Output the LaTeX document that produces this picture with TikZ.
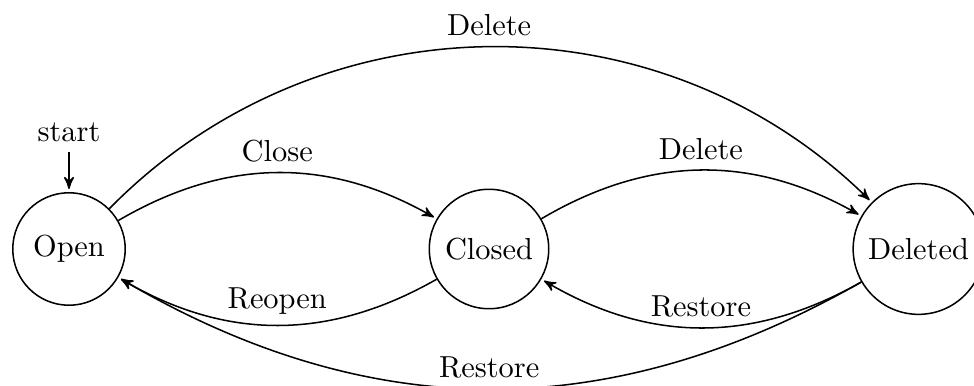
\documentclass[tikz,border=0pt]{standalone}
\usetikzlibrary{automata,arrows,positioning}
\begin{document}
\begin{tikzpicture}[x=0.329pt,y=0.329pt,->,>=stealth',shorten >=1pt,auto,line width=0.5pt,
  every state/.style={draw,circle,inner sep=0pt}]
\useasboundingbox (0,0) rectangle (974,385);
\clip (0,0) rectangle (974,385);
\node[state,minimum size=37pt] (open) at (69,136) {Open};
\node[state,minimum size=39.3pt] (closed) at (489,136) {Closed};
\node[state,minimum size=43pt] (deleted) at (918.5,136) {Deleted};
\node (start) at (69,253) {start};
\draw (start) -- (open);
\path (open) edge[bend left] node {Close} (closed)
      (open) edge[bend left=45] node {Delete} (deleted)
      (closed) edge[bend left] node[swap] {Reopen} (open)
      (closed) edge[bend left] node {Delete} (deleted)
      (deleted) edge[bend left] node[swap] {Restore} (closed)
      (deleted) edge[bend left] node[swap] {Restore} (open);
\end{tikzpicture}
\end{document}
